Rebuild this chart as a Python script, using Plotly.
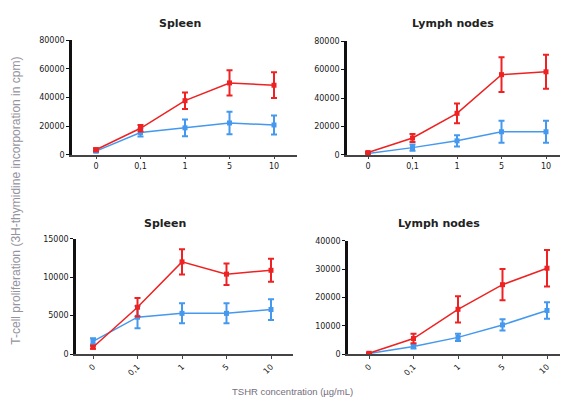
import plotly.graph_objects as go

conc_labels = ["0", "0,1", "1", "5", "10"]

# Top-left: Spleen
tl_red = [3500, 18500, 37800, 50200, 48600]
tl_red_err = [1000, 2200, 5800, 8800, 9000]
tl_blue = [2500, 15500, 18800, 22200, 20800]
tl_blue_err = [800, 2800, 5800, 7800, 6600]

# Top-right: Lymph nodes
tr_red = [1500, 11800, 29200, 56500, 58500]
tr_red_err = [600, 2800, 7000, 12300, 12000]
tr_blue = [800, 5000, 9800, 16200, 16200]
tr_blue_err = [400, 2200, 4000, 7800, 7800]

# Bottom-left: Spleen
bl_red = [900, 6100, 12000, 10400, 10900]
bl_red_err = [200, 1200, 1650, 1400, 1500]
bl_blue = [1650, 4800, 5300, 5300, 5800]
bl_blue_err = [400, 1450, 1300, 1300, 1350]

# Bottom-right: Lymph nodes
br_red = [300, 5500, 15800, 24500, 30300]
br_red_err = [200, 1700, 4600, 5500, 6400]
br_blue = [200, 2700, 5900, 10300, 15400]
br_blue_err = [200, 700, 1300, 2000, 2900]

panels = [
    dict(title="Spleen", red=tl_red, re=tl_red_err, blue=tl_blue, be=tl_blue_err,
         ymax=80000, dtick=20000, xpx=(72, 297), ypx=(37, 154), tx=180, ty=20, angle=0, first=96),
    dict(title="Lymph nodes", red=tr_red, re=tr_red_err, blue=tr_blue, be=tr_blue_err,
         ymax=80000, dtick=20000, xpx=(347, 568), ypx=(38, 154), tx=453, ty=20, angle=0, first=368),
    dict(title="Spleen", red=bl_red, re=bl_red_err, blue=bl_blue, be=bl_blue_err,
         ymax=15000, dtick=5000, xpx=(76, 293), ypx=(240, 358), tx=165, ty=224, angle=-45, first=93),
    dict(title="Lymph nodes", red=br_red, re=br_red_err, blue=br_blue, be=br_blue_err,
         ymax=40000, dtick=10000, xpx=(348, 568), ypx=(242, 358), tx=439, ty=224, angle=-45, first=369),
]

OFF = 8  # default page body margin
W, H = 560, 400
RED = "#ee2222"
BLUE = "#4499ee"
TICKFONT = dict(size=8, color="#1a1a1a", family="DejaVu Sans")


def px2x(px):
    return (px - OFF) / W


def py2y(py):
    return 1 - (py - OFF) / H


fig = go.Figure()
xs = list(range(len(conc_labels)))
for i, p in enumerate(panels):
    n = "" if i == 0 else str(i + 1)
    xa, ya = "x" + n, "y" + n
    for vals, errs, col in [(p["blue"], p["be"], BLUE), (p["red"], p["re"], RED)]:
        fig.add_trace(go.Scatter(
            x=xs, y=vals, xaxis=xa, yaxis=ya, mode="lines+markers",
            line=dict(color=col, width=1.5),
            marker=dict(color=col, size=5, symbol="square"),
            error_y=dict(type="data", array=errs, visible=True, color=col, thickness=2, width=3),
            showlegend=False, cliponaxis=False))
    x0, x1 = p["xpx"]
    yt, yb = p["ypx"]
    spacing = 44.5
    first = p["first"]
    rng = [(x0 - first) / spacing, (x1 - first) / spacing]
    fig.update_layout(**{
        "xaxis" + n: dict(domain=[px2x(x0), min(1, px2x(x1))], range=rng, anchor=ya,
                          tickmode="array", tickvals=xs, ticktext=conc_labels,
                          tickangle=p["angle"], showline=True, linecolor="#444", linewidth=1.5,
                          ticks="outside", ticklen=3, tickcolor="#444", showgrid=False, zeroline=False,
                          tickfont=TICKFONT),
        "yaxis" + n: dict(domain=[py2y(yb), py2y(yt)], range=[0, p["ymax"]], anchor=xa,
                          dtick=p["dtick"], showline=True, linecolor="#111", linewidth=2.5,
                          ticks="outside", ticklen=3, tickcolor="#111", showgrid=False, zeroline=False,
                          tickformat="d", tickfont=TICKFONT),
    })
    fig.add_annotation(text="<b>" + p["title"] + "</b>", x=px2x(p["tx"]), y=py2y(p["ty"]),
                       xref="paper", yref="paper", showarrow=False,
                       xanchor="center", yanchor="middle",
                       font=dict(size=11, color="#222", family="DejaVu Sans"))

fig.add_annotation(text="T-cell proliferation (3H-thymidine incorporation in cpm)",
                   x=px2x(16), y=py2y(201), xref="paper", yref="paper", showarrow=False,
                   xanchor="center", yanchor="middle",
                   textangle=-90, font=dict(size=12, color="#9593a0", family="Liberation Sans"))
fig.add_annotation(text="TSHR concentration (µg/mL)",
                   x=px2x(292), y=py2y(396), xref="paper", yref="paper", showarrow=False,
                   xanchor="center", yanchor="middle",
                   font=dict(size=9.5, color="#756e80", family="Liberation Sans"))

fig.update_layout(width=W, height=H, margin=dict(l=0, r=0, t=0, b=0),
                  plot_bgcolor="white", paper_bgcolor="white")
fig.write_html("out.html")
